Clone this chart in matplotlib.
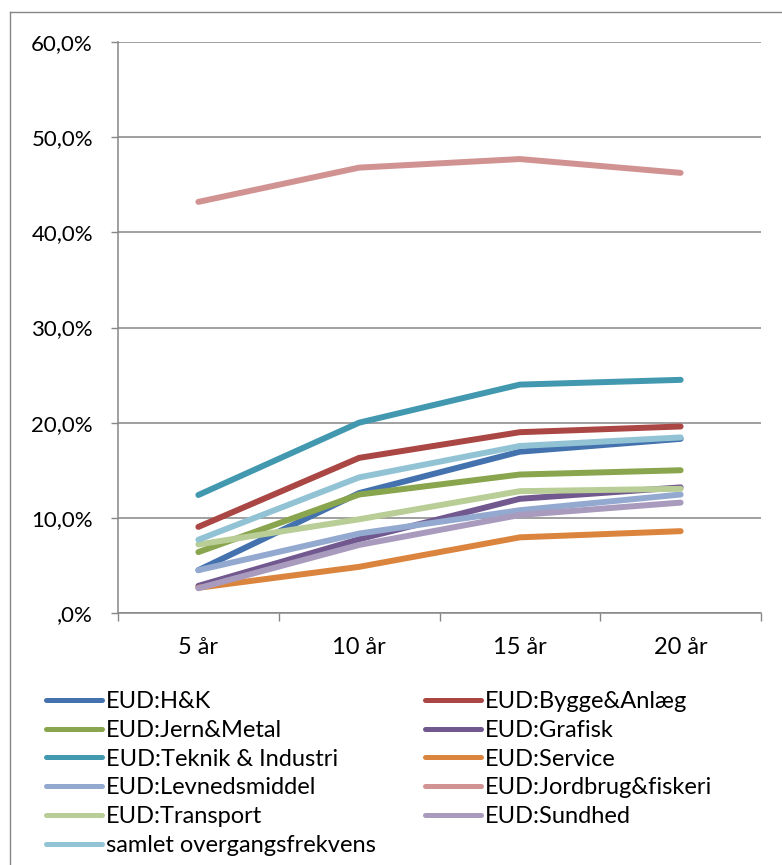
import matplotlib
matplotlib.use("Agg")
import matplotlib.pyplot as plt
from matplotlib.lines import Line2D

categories = ["5 år", "10 år", "15 år", "20 år"]
series_names = [
    "EUD:H&K", "EUD:Bygge&Anlæg", "EUD:Jern&Metal", "EUD:Grafisk",
    "EUD:Teknik & Industri", "EUD:Service", "EUD:Levnedsmiddel",
    "EUD:Jordbrug&fiskeri", "EUD:Transport", "EUD:Sundhed",
    "samlet overgangsfrekvens",
]
hk = [4.5, 12.6, 16.95, 18.3]
bygge = [9.05, 16.3, 19.0, 19.6]
jern = [6.4, 12.45, 14.55, 15.0]
grafisk = [2.85, 7.75, 12.0, 13.2]
teknik = [12.4, 20.0, 24.0, 24.5]
service = [2.65, 4.85, 7.95, 8.6]
levned = [4.5, 8.35, 10.8, 12.45]
jordbrug = [43.2, 46.8, 47.7, 46.25]
transport = [7.2, 9.85, 12.8, 13.05]
sundhed = [2.6, 7.15, 10.3, 11.6]
samlet = [7.7, 14.25, 17.55, 18.45]
series_values = [hk, bygge, jern, grafisk, teknik, service, levned,
                 jordbrug, transport, sundhed, samlet]
ytick_values = [0, 10, 20, 30, 40, 50, 60]
ytick_labels = [",0%", "10,0%", "20,0%", "30,0%", "40,0%", "50,0%", "60,0%"]

colors = ["#4472AE", "#AA4643", "#89A54E", "#71588F", "#4198AF", "#DB843D",
          "#93A9CF", "#D19392", "#B9CD96", "#A99BBD", "#92C3D5"]

W, H = 782, 865
fig = plt.figure(figsize=(W / 100, H / 100), dpi=100)
plt.rcParams['font.family'] = ['Lato', 'DejaVu Sans']
FS = 17
FSY = 16
grid_c = "#868686"

ax = fig.add_axes([118 / W, 1 - 613 / H, (761 - 118) / W, (613 - 42) / H])
x = list(range(len(categories)))
handles = []
for name, vals, c in zip(series_names, series_values, colors):
    ax.plot(x, vals, color=c, lw=4.3, solid_capstyle='round',
            solid_joinstyle='round', label=name, zorder=3)
    handles.append(Line2D([0], [0], color=c, lw=3.6, solid_capstyle='round'))

ax.set_xlim(-0.5, len(categories) - 0.5)
ax.set_ylim(0, 60)
ax.set_yticks(ytick_values)
ax.set_yticklabels(ytick_labels, fontsize=FSY)
ax.set_xticks(x)
ax.set_xticklabels(categories, fontsize=FS)
ax.set_xticks([i - 0.5 for i in range(len(categories) + 1)], minor=True)
ax.tick_params(axis='x', which='major', length=0, pad=17)
ax.tick_params(axis='x', which='minor', length=6, width=1.0, color=grid_c, direction='out')
ax.tick_params(axis='y', which='major', length=5, width=1.0, color=grid_c, pad=13)
ax.yaxis.grid(True, color=grid_c, lw=1.1, zorder=0)
ax.set_axisbelow(True)
for s in ['top', 'right']:
    ax.spines[s].set_visible(False)
for s in ['left', 'bottom']:
    ax.spines[s].set_color(grid_c)
    ax.spines[s].set_linewidth(1.1)

# outer chart border (left and top visible)
fig.add_artist(Line2D([10 / W, 10 / W], [0, 1 - 12 / H], color=grid_c, lw=1.0))
fig.add_artist(Line2D([10 / W, 1], [1 - 12 / H, 1 - 12 / H], color=grid_c, lw=1.0))

col1 = [0, 2, 4, 6, 8, 10]
col2 = [1, 3, 5, 7, 9]
common = dict(loc='upper left', frameon=False, fontsize=FS, handlelength=2.37,
              handletextpad=0.17, labelspacing=0.33, borderpad=0, borderaxespad=0)
leg1 = fig.legend([handles[i] for i in col1], [series_names[i] for i in col1],
                  bbox_to_anchor=(46 / W, 1 - 691 / H), **common)
leg2 = fig.legend([handles[i] for i in col2], [series_names[i] for i in col2],
                  bbox_to_anchor=(425 / W, 1 - 691 / H), **common)

fig.savefig("out.png", dpi=100)
